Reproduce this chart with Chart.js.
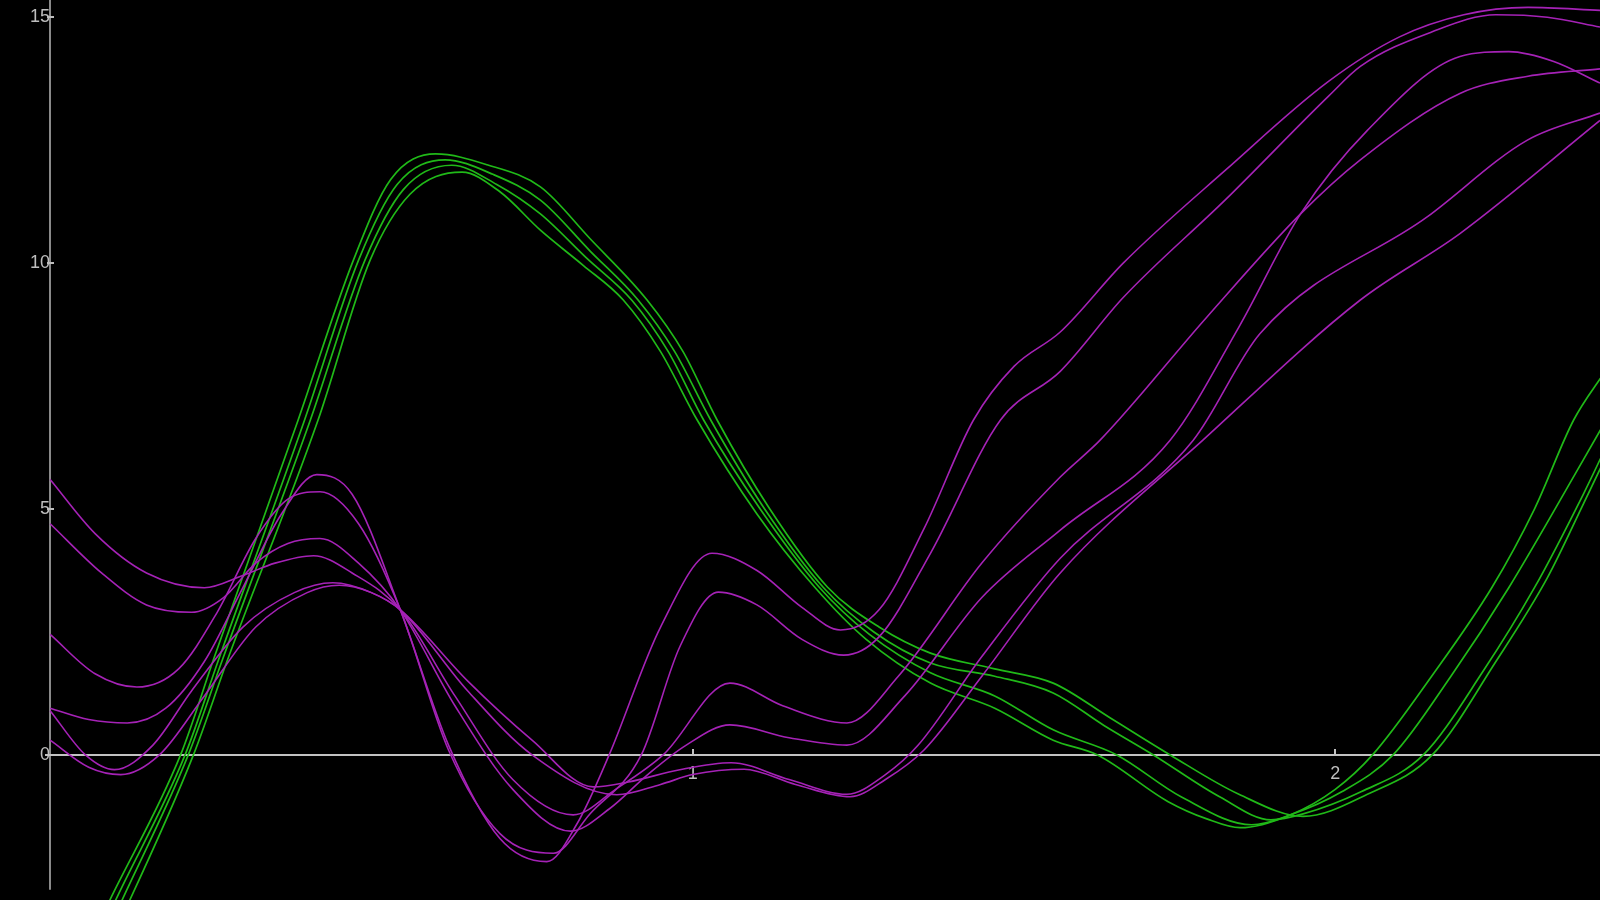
<!DOCTYPE html>
<html>
<head>
<meta charset="utf-8">
<script src="https://cdn.jsdelivr.net/npm/chart.js@4.4.1/dist/chart.umd.min.js"></script>
<style>
  html, body { margin: 0; padding: 0; background: #000; }
  #wrap { width: 1600px; height: 900px; }
</style>
</head>
<body>
<div id="wrap"><canvas id="c" width="1600" height="900"></canvas></div>
<script>
// ---- axis ranges / ticks ----
const xRange = [-0.078, 2.412];
const yRange = [-2.95, 15.35];
const xTicks = [1, 2];
const yTicks = [0, 5, 10, 15];
const yAxisBottom = -2.74;

// ---- green curves [x, y] ----
const green1 = [[0.06,-3.85],[0.093,-2.95],[0.203,0],[0.254,1.93],[0.386,6.81],[0.472,10.06],[0.53,11.7],[0.6,12.22],[0.68,12.0],[0.763,11.55],[0.84,10.5],[0.929,9.25],[0.985,8.2],[1.038,6.81],[1.12,5.0],[1.21,3.41],[1.29,2.6],[1.37,2.07],[1.47,1.75],[1.561,1.46],[1.65,0.75],[1.743,0],[1.85,-0.8],[1.95,-1.25],[2.05,-0.8],[2.151,0],[2.25,1.9],[2.33,3.6],[2.386,5.1],[2.43,6.3]];
const green2 = [[0.07,-3.85],[0.102,-2.95],[0.21,0],[0.262,1.93],[0.396,6.81],[0.48,10.06],[0.54,11.6],[0.615,12.1],[0.69,11.8],[0.763,11.28],[0.84,10.25],[0.915,9.25],[0.972,8.2],[1.028,6.81],[1.112,5.0],[1.203,3.41],[1.282,2.5],[1.37,1.87],[1.47,1.6],[1.561,1.26],[1.64,0.6],[1.717,0],[1.82,-0.85],[1.9,-1.32],[1.95,-1.2],[2.04,-0.75],[2.137,0],[2.23,1.7],[2.31,3.4],[2.386,5.3],[2.43,6.5]];
const green3 = [[0.08,-3.85],[0.112,-2.95],[0.215,0],[0.268,1.93],[0.405,6.81],[0.49,10.06],[0.55,11.5],[0.625,11.99],[0.695,11.6],[0.763,11.0],[0.835,10.1],[0.905,9.25],[0.962,8.2],[1.017,6.81],[1.105,5.0],[1.197,3.41],[1.275,2.45],[1.37,1.67],[1.47,1.2],[1.561,0.51],[1.66,0],[1.76,-0.85],[1.87,-1.42],[1.93,-1.22],[2.01,-0.75],[2.09,0],[2.18,1.6],[2.27,3.4],[2.386,6.0],[2.43,7.0]];
const green4 = [[0.09,-3.85],[0.124,-2.95],[0.223,0],[0.276,1.93],[0.417,6.81],[0.498,10.06],[0.56,11.4],[0.641,11.85],[0.7,11.45],[0.763,10.67],[0.83,9.95],[0.892,9.25],[0.95,8.2],[1.007,6.81],[1.1,4.9],[1.19,3.41],[1.27,2.35],[1.37,1.46],[1.47,0.95],[1.561,0.3],[1.63,0],[1.74,-0.95],[1.8,-1.3],[1.852,-1.48],[1.93,-1.22],[2.0,-0.7],[2.058,0],[2.15,1.6],[2.244,3.41],[2.31,5.0],[2.371,6.81],[2.42,7.8]];

// ---- magenta curves [x, y] ----
const magenta1 = [[0,0.95],[0.06,0.72],[0.12,0.65],[0.18,0.95],[0.24,1.9],[0.3,3.4],[0.36,4.9],[0.415,5.7],[0.47,5.3],[0.545,2.95],[0.62,0.2],[0.7,-1.7],[0.773,-2.17],[0.82,-1.4],[0.87,0],[0.95,2.6],[1.03,4.1],[1.1,3.75],[1.17,3.0],[1.23,2.54],[1.29,2.95],[1.36,4.6],[1.437,6.81],[1.5,7.9],[1.572,8.6],[1.67,10.0],[1.83,11.9],[1.99,13.7],[2.1,14.6],[2.2,15.05],[2.3,15.2],[2.412,15.14]];
const magenta2 = [[0,2.45],[0.07,1.65],[0.135,1.38],[0.2,1.75],[0.26,2.9],[0.32,4.4],[0.37,5.2],[0.42,5.35],[0.48,4.7],[0.545,2.95],[0.62,0.1],[0.7,-1.6],[0.783,-2.0],[0.84,-1.2],[0.92,0],[0.98,2.2],[1.04,3.31],[1.1,3.05],[1.17,2.35],[1.235,2.03],[1.29,2.4],[1.37,4.1],[1.479,6.81],[1.572,7.8],[1.67,9.3],[1.83,11.3],[1.99,13.4],[2.039,14.0],[2.15,14.7],[2.25,15.05],[2.33,15.0],[2.412,14.8]];
const magenta3 = [[0,4.7],[0.08,3.7],[0.15,3.05],[0.22,2.9],[0.27,3.2],[0.32,3.9],[0.37,4.3],[0.42,4.4],[0.48,3.9],[0.545,2.95],[0.63,1.0],[0.72,-0.7],[0.81,-1.55],[0.87,-1.1],[0.93,-0.4],[0.99,0.2],[1.058,0.61],[1.15,0.35],[1.24,0.2],[1.33,1.2],[1.45,3.2],[1.572,4.57],[1.743,6.4],[1.85,8.7],[1.946,11.0],[2.05,12.7],[2.194,14.2],[2.27,14.3],[2.34,14.1],[2.412,13.66]];
const magenta4 = [[0,5.6],[0.07,4.5],[0.15,3.7],[0.24,3.4],[0.3,3.65],[0.35,3.9],[0.41,4.05],[0.47,3.7],[0.545,2.95],[0.63,1.2],[0.72,-0.5],[0.814,-1.22],[0.88,-0.7],[0.954,0],[1.058,1.46],[1.14,1.0],[1.24,0.65],[1.32,1.6],[1.45,3.9],[1.572,5.65],[1.634,6.4],[1.8,8.9],[1.946,11.0],[2.039,12.1],[2.194,13.45],[2.3,13.8],[2.412,13.95]];
const magenta5 = [[0,0.9],[0.055,0],[0.1,-0.3],[0.16,0.2],[0.22,1.3],[0.3,2.6],[0.38,3.3],[0.44,3.5],[0.5,3.3],[0.545,2.95],[0.65,1.5],[0.75,0.3],[0.845,-0.65],[0.9,-0.55],[0.98,-0.3],[1.06,-0.16],[1.15,-0.5],[1.24,-0.8],[1.3,-0.4],[1.351,0.2],[1.45,2.0],[1.572,4.0],[1.779,6.4],[1.883,8.57],[2.143,10.94],[2.299,12.5],[2.412,13.05]];
const magenta6 = [[0,0.3],[0.06,-0.25],[0.11,-0.4],[0.17,0],[0.24,1.2],[0.32,2.6],[0.4,3.3],[0.45,3.45],[0.5,3.3],[0.545,2.95],[0.65,1.3],[0.75,0],[0.882,-0.81],[0.95,-0.6],[1.0,-0.4],[1.08,-0.29],[1.16,-0.6],[1.245,-0.85],[1.3,-0.5],[1.36,0.1],[1.45,1.6],[1.572,3.7],[1.794,6.4],[2.039,9.25],[2.194,10.6],[2.412,12.9]];

const greenSeries = [green1, green2, green3, green4];
const magentaSeries = [magenta1, magenta2, magenta3, magenta4, magenta5, magenta6];

const GREEN = 'rgb(32,185,24)';
const MAGENTA = 'rgb(165,34,182)';
const AXIS_H = '#c2c2c2';
const AXIS_V = '#8a8a8a';
const LABEL = '#bebebe';

function toPts(arr) { return arr.map(p => ({x: p[0], y: p[1]})); }

const datasets = [];
magentaSeries.forEach(s => datasets.push({
  data: toPts(s), borderColor: MAGENTA, borderWidth: 1.6,
  pointRadius: 0, fill: false, cubicInterpolationMode: 'monotone'
}));
greenSeries.forEach(s => datasets.push({
  data: toPts(s), borderColor: GREEN, borderWidth: 1.7,
  pointRadius: 0, fill: false, cubicInterpolationMode: 'monotone'
}));

// axis lines and small tick marks
const axesPlugin = {
  id: 'axesPlugin',
  beforeDatasetsDraw(chart) {
    const ctx = chart.ctx, xs = chart.scales.x, ys = chart.scales.y;
    const x0 = Math.round(xs.getPixelForValue(0)), y0 = Math.round(ys.getPixelForValue(0));
    ctx.save();
    ctx.lineWidth = 2;
    ctx.strokeStyle = AXIS_V;
    ctx.beginPath(); ctx.moveTo(x0, 0); ctx.lineTo(x0, ys.getPixelForValue(yAxisBottom)); ctx.stroke();
    ctx.strokeStyle = AXIS_H;
    ctx.beginPath(); ctx.moveTo(x0 - 5, y0); ctx.lineTo(chart.width, y0); ctx.stroke();
    xTicks.forEach(v => {
      const px = Math.round(xs.getPixelForValue(v));
      ctx.beginPath(); ctx.moveTo(px, y0 - 6); ctx.lineTo(px, y0 + 1); ctx.stroke();
    });
    ctx.strokeStyle = '#bdbdbd';
    yTicks.forEach(v => {
      if (v === 0) return;
      const py = Math.round(ys.getPixelForValue(v));
      ctx.beginPath(); ctx.moveTo(x0 - 3, py); ctx.lineTo(x0 + 4, py); ctx.stroke();
    });
    ctx.restore();
  }
};

function noPad(s) { s.paddingTop = 0; s.paddingBottom = 0; s.paddingLeft = 0; s.paddingRight = 0; }

new Chart(document.getElementById('c'), {
  type: 'line',
  data: { datasets },
  plugins: [axesPlugin],
  options: {
    responsive: false,
    animation: false,
    devicePixelRatio: 1,
    layout: { padding: 0 },
    plugins: { legend: { display: false }, tooltip: { enabled: false } },
    scales: {
      x: {
        type: 'linear', min: xRange[0], max: xRange[1],
        position: { y: 0 },
        afterBuildTicks: s => { s.ticks = xTicks.map(v => ({ value: v })); },
        afterFit: noPad,
        ticks: { color: LABEL, font: { family: 'Liberation Sans, Arial', size: 18 }, padding: 8, maxRotation: 0 },
        grid: { display: false, drawTicks: false },
        border: { display: false }
      },
      y: {
        type: 'linear', min: yRange[0], max: yRange[1],
        position: { x: 0 },
        afterBuildTicks: s => { s.ticks = yTicks.map(v => ({ value: v })); },
        afterFit: noPad,
        ticks: { color: LABEL, font: { family: 'Liberation Sans, Arial', size: 18 }, padding: 6 },
        grid: { display: false, drawTicks: false },
        border: { display: false }
      }
    }
  }
});
</script>
</body>
</html>
